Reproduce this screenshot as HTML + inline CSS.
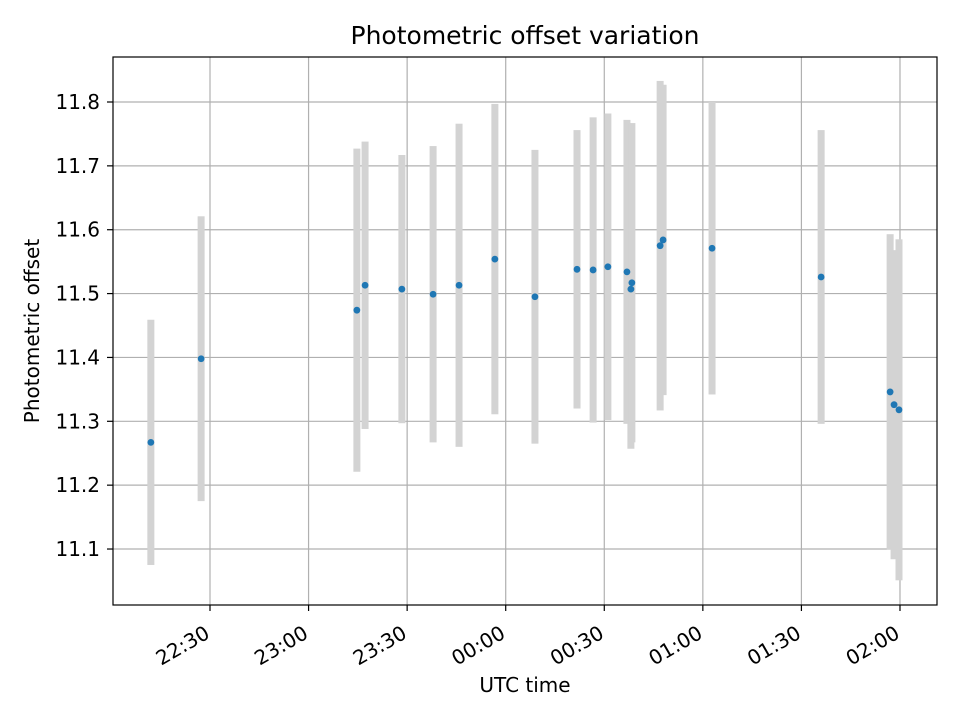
<!DOCTYPE html>
<html><head><meta charset="utf-8"><style>
body{margin:0;background:#fff;}
svg{font-family:"DejaVu Sans","Liberation Sans",sans-serif;}
</style></head><body>
<svg id="chart" width="960" height="720" xmlns="http://www.w3.org/2000/svg">
<rect width="960" height="720" fill="#fff"/>
<g id="grid"></g>
<g id="bars"></g>
<g id="pts"></g>
<rect x="113" y="57" width="824" height="548" fill="none" stroke="#000" stroke-width="1.2"/>
<g id="ticks"></g>
<text x="525" y="44" text-anchor="middle" font-size="25">Photometric offset variation</text>
<text x="525" y="692" text-anchor="middle" font-size="20">UTC time</text>
<text transform="translate(39,331) rotate(-90)" text-anchor="middle" font-size="20">Photometric offset</text>
</svg>
<script>
// minutes after 22:00 UTC
const times=[12.0,27.3,74.7,77.2,88.4,97.9,105.8,116.7,128.9,141.7,146.6,151.1,156.9,158.1,158.4,167.0,167.9,182.8,216.0,237.0,238.2,239.7];
const offsets=[11.267,11.398,11.474,11.513,11.507,11.499,11.513,11.554,11.495,11.538,11.537,11.542,11.534,11.507,11.517,11.575,11.584,11.571,11.526,11.346,11.326,11.318];
const errors=[0.192,0.223,0.253,0.225,0.21,0.232,0.253,0.243,0.23,0.218,0.239,0.24,0.238,0.25,0.25,0.258,0.243,0.229,0.23,0.247,0.242,0.267];
const yTicks=[11.1,11.2,11.3,11.4,11.5,11.6,11.7,11.8];
const xTickMinutes=[30,60,90,120,150,180,210,240];
const xTickLabels=["22:30","23:00","23:30","00:00","00:30","01:00","01:30","02:00"];
const NS="http://www.w3.org/2000/svg";
function X(m){return 210+(m-30)*98.57/30;}
function Y(v){return 102+(11.8-v)*638.6;}
function mk(tag,attrs,parent){const e=document.createElementNS(NS,tag);for(const k in attrs)e.setAttribute(k,attrs[k]);parent.appendChild(e);return e;}
const grid=document.getElementById('grid'),ticks=document.getElementById('ticks'),bars=document.getElementById('bars'),pts=document.getElementById('pts');
yTicks.forEach(v=>{const y=Y(v);
 const g=mk('line',{x1:113,x2:937,y1:y,y2:y,stroke:'#b0b0b0','stroke-width':1.2},grid);
 
 
 mk('line',{x1:107,x2:113,y1:y,y2:y,stroke:'#000','stroke-width':1.2},ticks);
 const t=mk('text',{x:100,y:y+7,'text-anchor':'end','font-size':20},ticks);t.textContent=v.toFixed(1);
 
 
});
xTickMinutes.forEach((m,i)=>{const x=X(m);
 const g=mk('line',{x1:x,x2:x,y1:57,y2:605,stroke:'#b0b0b0','stroke-width':1.2},grid);
 
 
 mk('line',{x1:x,x2:x,y1:605,y2:611,stroke:'#000','stroke-width':1.2},ticks);
 const t=mk('text',{transform:`translate(${x+1},637) rotate(-30)`,'text-anchor':'end','font-size':20},ticks);t.textContent=xTickLabels[i];
 
 
});
times.forEach((m,i)=>{const x=X(m);
 const b=mk('rect',{x:x-3.5,y:Y(offsets[i]+errors[i]),width:7,height:Y(offsets[i]-errors[i])-Y(offsets[i]+errors[i]),fill:'#d3d3d3'},bars);
 
 
});
times.forEach((m,i)=>{
 const c=mk('circle',{cx:X(m),cy:Y(offsets[i]),r:3.4,fill:'#1f77b4'},pts);
 
 
});
</script>
</body></html>
